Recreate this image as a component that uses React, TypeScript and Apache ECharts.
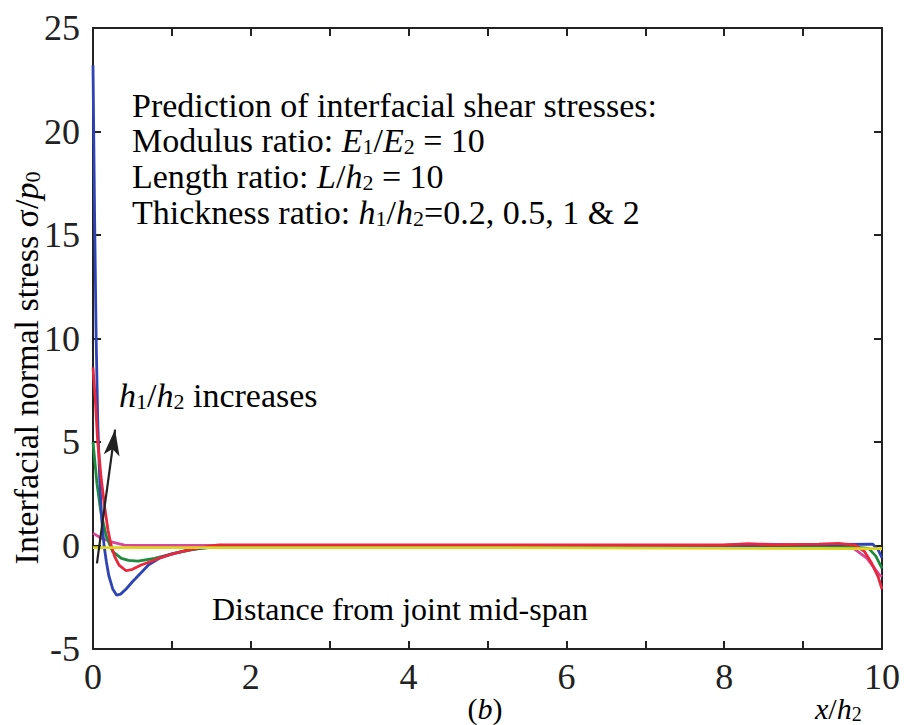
import React, { useEffect, useRef } from "react";
import * as echarts from "echarts";

// ---- data (x/h2, sigma/p0) ----
const blueData: [number, number][] = [
  [0, 23.2], [0.02, 16], [0.04, 10], [0.06, 6], [0.085, 3.2], [0.11, 1.3], [0.14, 0], [0.17, -0.8],
  [0.2, -1.45], [0.25, -2.1], [0.3, -2.4], [0.35, -2.35], [0.42, -2.1], [0.5, -1.75], [0.6, -1.35],
  [0.7, -0.95], [0.85, -0.6], [1.0, -0.4], [1.2, -0.22], [1.4, -0.12], [1.6, -0.05], [2, 0], [4, 0],
  [6, 0], [8, 0], [9, 0.03], [9.5, 0.05], [9.88, 0.07], [9.95, -0.2], [10, -0.6],
];
const redData: [number, number][] = [
  [0, 8.6], [0.03, 7], [0.06, 5], [0.105, 3.2], [0.15, 1.8], [0.19, 0.75], [0.23, 0], [0.275, -0.54],
  [0.33, -0.95], [0.42, -1.22], [0.5, -1.15], [0.61, -0.94], [0.75, -0.75], [0.87, -0.57], [1.0, -0.42],
  [1.12, -0.3], [1.3, -0.15], [1.5, -0.02], [1.6, 0.03], [4, 0.03], [6, 0.03], [8, 0.03], [8.3, 0.08],
  [8.6, 0.03], [9.2, 0.07], [9.45, 0.1], [9.66, 0.02], [9.78, -0.3], [9.87, -0.86], [9.95, -1.5], [10, -2.1],
];
const greenData: [number, number][] = [
  [0, 5], [0.05, 3], [0.1, 1.6], [0.13, 1.1], [0.17, 0.43], [0.25, -0.3], [0.36, -0.62], [0.45, -0.72],
  [0.57, -0.75], [0.78, -0.62], [1.03, -0.38], [1.29, -0.18], [1.5, -0.06], [1.6, -0.02], [4, -0.02],
  [6, -0.02], [8, -0.02], [9.5, -0.02], [9.83, -0.14], [9.92, -0.5], [10, -1.1],
];
const magentaData: [number, number][] = [
  [0, 0.6], [0.105, 0.35], [0.23, 0.18], [0.4, 0.02], [0.6, 0], [4, 0], [8, 0.02], [8.3, 0.08], [9, 0.03],
  [9.64, -0.14], [9.81, -0.62], [9.97, -1.43], [10, -1.5],
];
const yellowData: [number, number][] = [
  [0, -0.1], [5, -0.1], [10, -0.15],
];
const arrowFrom: [number, number] = [0.05, -0.86];
const arrowTo: [number, number] = [0.28, 5.6];

const xTicks = { min: 0, max: 10, interval: 1 };
const yTicks = { min: -5, max: 25, interval: 5 };

const FONT = "Liberation Serif";
const INK = "#222";

function rich(size: number) {
  const L = Math.round(size * 1.18);
  return {
    n: { fontSize: size, fontFamily: FONT, color: INK, lineHeight: L, verticalAlign: "bottom" },
    i: { fontSize: size, fontFamily: FONT, color: INK, lineHeight: L, verticalAlign: "bottom", fontStyle: "italic" },
    s: { fontSize: Math.round(size * 0.65), fontFamily: FONT, color: INK, lineHeight: Math.round(size * 0.6), verticalAlign: "bottom" },
  };
}

function txt(x: number, baseline: number, text: string, size: number, align = "left") {
  const L = Math.round(size * 1.18);
  const top = baseline - (L / 2 + 0.3 * size);
  return {
    type: "text",
    x,
    y: top,
    silent: true,
    style: { text, align, verticalAlign: "top", rich: rich(size) },
  };
}

export default function App() {
  const ref = useRef<HTMLDivElement>(null);
  useEffect(() => {
    if (!ref.current) return;
    const chart = echarts.init(ref.current, null, { renderer: "svg" });
    const axisLine = { show: true, onZero: false, lineStyle: { color: INK, width: 2 } };
    const axisTick = { show: true, inside: true, length: 8, lineStyle: { color: INK, width: 2 } };
    const lineS = (name: string, data: [number, number][], color: string, extra: any = {}) => ({
      type: "line",
      name,
      data,
      showSymbol: false,
      symbol: "none",
      lineStyle: { color, width: 2.8 },
      itemStyle: { color },
      ...extra,
    });
    chart.setOption({
      animation: false,
      textStyle: { fontFamily: FONT },
      grid: { left: 93, top: 28, right: 24, bottom: 76, show: false },
      xAxis: [
        {
          type: "value", ...xTicks, position: "bottom",
          axisLine, axisTick, splitLine: { show: false },
          axisLabel: {
            fontFamily: FONT, fontSize: 36, color: INK, margin: 10,
            formatter: (v: number) => (v % 2 === 0 ? String(v) : ""),
          },
        },
        {
          type: "value", ...xTicks, position: "top",
          axisLine, axisTick, splitLine: { show: false }, axisLabel: { show: false },
        },
      ],
      yAxis: [
        {
          type: "value", ...yTicks, position: "left",
          axisLine, axisTick, splitLine: { show: false },
          axisLabel: { fontFamily: FONT, fontSize: 36, color: INK, margin: 13 },
        },
        {
          type: "value", ...yTicks, position: "right",
          axisLine, axisTick, splitLine: { show: false }, axisLabel: { show: false },
        },
      ],
      series: [
        lineS("h1/h2=2", magentaData, "#d9479b"),
        lineS("h1/h2=1", greenData, "#1e8a3c"),
        lineS("h1/h2=0.2", blueData, "#2e44b4"),
        lineS("h1/h2=0.5", redData, "#e8283c"),
        lineS("ref", yellowData, "#dcd41e", {
          markLine: {
            silent: true,
            symbol: ["none", "arrow"],
            symbolSize: [12, 26],
            label: { show: false },
            lineStyle: { color: INK, width: 2.2, type: "solid" },
            data: [[{ coord: arrowFrom }, { coord: arrowTo }]],
          },
        }),
      ],
      graphic: [
        txt(132, 113, "{n|Prediction of interfacial shear stresses:}", 34),
        txt(132, 148, "{n|Modulus ratio: }{i|E}{s|1}{n|/}{i|E}{s|2}{n| = 10}", 34),
        txt(132, 184, "{n|Length ratio: }{i|L}{n|/}{i|h}{s|2}{n| = 10}", 34),
        txt(132, 220, "{n|Thickness ratio: }{i|h}{s|1}{n|/}{i|h}{s|2}{n|=0.2, 0.5, 1 & 2}", 34),
        txt(119, 403, "{i|h}{s|1}{n|/}{i|h}{s|2}{n| increases}", 34),
        txt(212, 616, "{n|Distance from joint mid-span}", 32),
        txt(485, 715, "{n|(}{i|b}{n|)}", 30, "center"),
        txt(815, 715, "{i|x}{n|/}{i|h}{s|2}", 30),
        {
          type: "text",
          x: 23,
          y: 368,
          rotation: Math.PI / 2,
          silent: true,
          style: {
            text: "{n|Interfacial normal stress σ/}{i|p}{s|0}",
            align: "center",
            verticalAlign: "middle",
            rich: rich(34),
          },
        },
      ],
    });
    return () => chart.dispose();
  }, []);
  return (
    <div
      ref={ref}
      style={{ position: "fixed", left: 0, top: 0, width: 906, height: 725, background: "#fff" }}
    />
  );
}
